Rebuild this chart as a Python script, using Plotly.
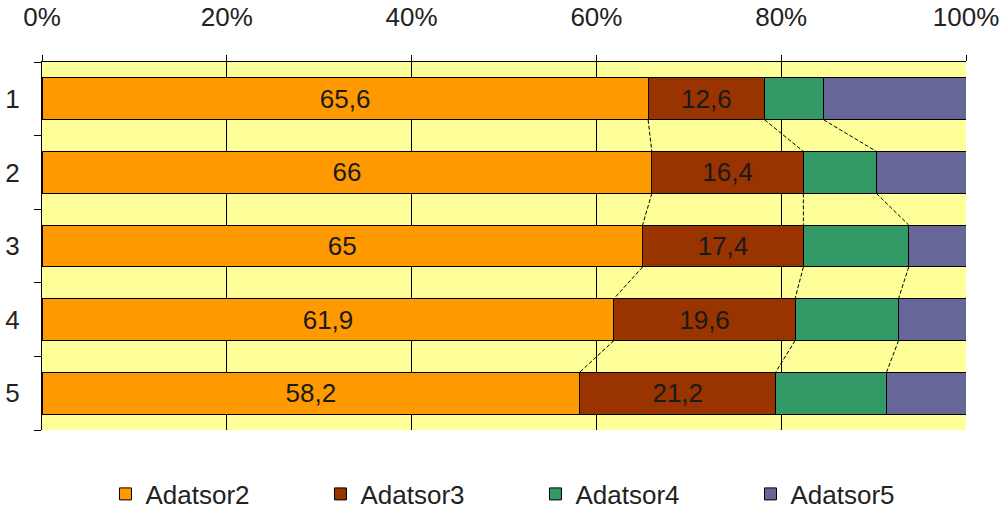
import plotly.graph_objects as go
import numpy as np

# Categories (rows, top to bottom)
categories = [1, 2, 3, 4, 5]

# Series values (100% stacked)
adatsor2 = [65.6, 66.0, 65.0, 61.9, 58.2]
adatsor3 = [12.6, 16.4, 17.4, 19.6, 21.2]
adatsor4 = [6.4, 7.9, 11.4, 11.2, 12.0]
adatsor5 = [15.4, 9.7, 6.2, 7.3, 8.6]

series_names = ["Adatsor2", "Adatsor3", "Adatsor4", "Adatsor5"]
series_colors = ["#FF9900", "#993300", "#339966", "#666699"]
labelled = [True, True, False, False]

x_tick_vals = [0, 20, 40, 60, 80, 100]
x_tick_text = ["0%", "20%", "40%", "60%", "80%", "100%"]

FONT = "Liberation Sans, Arial, sans-serif"
FSIZE = 26
BAR_W = 0.57
HEIGHT = 509

series = [adatsor2, adatsor3, adatsor4, adatsor5]

fig = go.Figure()

for name, vals, color, lab in zip(series_names, series, series_colors, labelled):
    fig.add_trace(go.Bar(
        name=name,
        y=categories,
        x=vals,
        orientation="h",
        width=BAR_W,
        marker=dict(color=color, line=dict(color="#000000", width=1)),
        text=[f"{v:g}".replace(".", ",") for v in vals] if lab else None,
        textposition="inside" if lab else "none",
        insidetextanchor="middle",
        textangle=0,
        constraintext="none",
        textfont=dict(family=FONT, size=FSIZE, color="#1a1a1a"),
        hoverinfo="skip",
    ))

# Series lines joining segment boundaries of neighbouring bars
totals = np.sum(np.array(series), axis=0)
cum = np.cumsum(np.array(series) / totals * 100.0, axis=0)
for k in range(len(series) - 1):
    xs, ys = [], []
    for i in range(len(categories) - 1):
        xs += [cum[k][i], cum[k][i + 1], None]
        ys += [categories[i] + BAR_W / 2, categories[i + 1] - BAR_W / 2, None]
    fig.add_trace(go.Scatter(
        x=xs, y=ys, mode="lines",
        line=dict(color="#000000", width=1, dash="4px,2px"),
        showlegend=False, hoverinfo="skip",
    ))

# Tick marks on category boundaries (separate overlay axis)
boundaries = [c - 0.5 for c in categories] + [categories[-1] + 0.5]
fig.add_trace(go.Scatter(x=[None], y=[None], yaxis="y2", showlegend=False, hoverinfo="skip"))

# Light shadow at the right and bottom edges of the plot area
fig.add_shape(type="line", xref="x", yref="paper", xsizemode="pixel", xanchor=100,
              x0=2, x1=2, y0=-0.005, y1=1, line=dict(color="#a0a0a0", width=2), layer="above")
fig.add_shape(type="line", xref="paper", yref="y", ysizemode="pixel", yanchor=5.5,
              x0=0, x1=1.002, y0=-2, y1=-2, line=dict(color="#a0a0a0", width=2), layer="above")

fig.update_layout(
    width=1002, height=HEIGHT,
    margin=dict(l=42, r=36, t=62, b=79),
    barmode="stack",
    barnorm="percent",
    paper_bgcolor="#FFFFFF",
    plot_bgcolor="#FFFF99",
    font=dict(family=FONT, size=FSIZE, color="#222222"),
    xaxis=dict(
        side="top", range=[0, 100], tickvals=x_tick_vals, ticktext=x_tick_text,
        ticks="outside", ticklen=6, tickcolor="#000000", ticklabelstandoff=19,
        showgrid=True, gridcolor="#000000", gridwidth=1,
        showline=True, linecolor="#000000", linewidth=1,
        zeroline=False, fixedrange=True, automargin=False,
        tickfont=dict(family=FONT, size=FSIZE, color="#222222"),
    ),
    yaxis=dict(
        range=[5.5, 0.5], tickvals=categories, ticktext=[str(c) for c in categories],
        ticks="", showgrid=False, zeroline=False, automargin=False,
        showline=True, linecolor="#000000", linewidth=1,
        ticklabelstandoff=16,
        tickfont=dict(family=FONT, size=FSIZE, color="#222222"),
    ),
    yaxis2=dict(
        overlaying="y", side="left", range=[5.5, 0.5], tickvals=boundaries,
        ticks="outside", ticklen=7, tickcolor="#000000", showticklabels=False,
        showgrid=False, zeroline=False, showline=False, automargin=False,
    ),
    legend=dict(
        orientation="h", traceorder="normal",
        x=0.0687, xanchor="left",
        yref="container", y=(HEIGHT - 494) / HEIGHT, yanchor="middle",
        entrywidth=170, entrywidthmode="pixels",
        font=dict(family=FONT, size=FSIZE, color="#222222"),
        itemwidth=30,
    ),
    showlegend=True,
)

fig.write_html("out.html")
